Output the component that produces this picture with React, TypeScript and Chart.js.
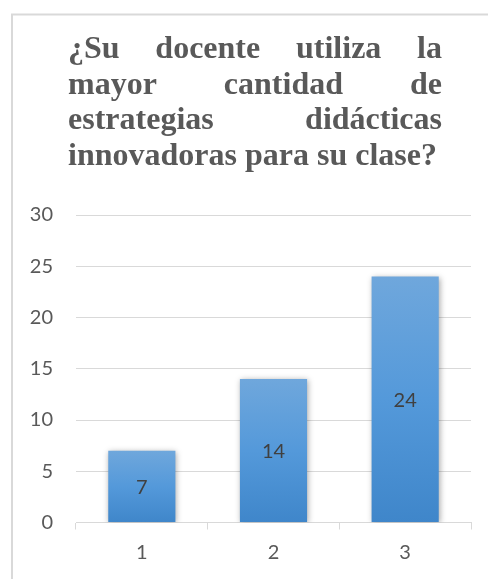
import React, { useEffect, useRef } from "react";
import { Chart, registerables } from "chart.js";

Chart.register(...registerables);

const CATEGORIES = ["1", "2", "3"];
const VALUES = [7, 14, 24];
const Y_MIN = 0;
const Y_MAX = 30;
const Y_STEP = 5;
const TITLE_LINES = [
  "¿Su docente utiliza la",
  "mayor cantidad de",
  "estrategias didácticas",
  "innovadoras para su clase?",
];

const TEXT_COLOR = "#595959";
const GRID_COLOR = "#d9d9d9";
const SANS = "Lato, 'Noto Sans', sans-serif";

const framePlugin = {
  id: "frame",
  beforeDraw(chart: any) {
    const ctx = chart.ctx;
    ctx.save();
    ctx.fillStyle = "#ffffff";
    ctx.fillRect(0, 0, chart.width, chart.height);
    ctx.strokeStyle = GRID_COLOR;
    ctx.lineWidth = 2;
    ctx.strokeRect(12, 14.5, 700, 800);
    ctx.restore();
  },
};

const justifiedTitlePlugin = {
  id: "justifiedTitle",
  afterDraw(chart: any) {
    const ctx = chart.ctx;
    const left = 68;
    const right = 442;
    const firstBaseline = 58;
    const step = 35.5;
    ctx.save();
    ctx.font = "bold 32px 'Liberation Serif', 'Times New Roman', serif";
    ctx.fillStyle = TEXT_COLOR;
    ctx.textBaseline = "alphabetic";
    ctx.textAlign = "left";
    TITLE_LINES.forEach((line, i) => {
      const y = firstBaseline + i * step;
      const words = line.split(" ");
      const last = i === TITLE_LINES.length - 1;
      if (last || words.length < 2) {
        ctx.fillText(line, left, y);
        return;
      }
      const widths = words.map((w) => ctx.measureText(w).width);
      const total = widths.reduce((a, b) => a + b, 0);
      const gap = (right - left - total) / (words.length - 1);
      let x = left;
      words.forEach((w, j) => {
        ctx.fillText(w, x, y);
        x += widths[j] + gap;
      });
    });
    ctx.restore();
  },
};

const shadowPlugin = {
  id: "barShadow",
  beforeDatasetsDraw(chart: any) {
    const ctx = chart.ctx;
    ctx.save();
    ctx.shadowColor = "rgba(0,0,0,0.35)";
    ctx.shadowBlur = 6;
    ctx.shadowOffsetX = 1;
    ctx.shadowOffsetY = 1;
  },
  afterDatasetsDraw(chart: any) {
    chart.ctx.restore();
  },
};

const valueLabelPlugin = {
  id: "valueLabels",
  afterDatasetsDraw(chart: any) {
    const ctx = chart.ctx;
    const meta = chart.getDatasetMeta(0);
    ctx.save();
    ctx.font = `20px ${SANS}`;
    ctx.fillStyle = "#404040";
    ctx.textAlign = "center";
    ctx.textBaseline = "middle";
    meta.data.forEach((bar: any, i: number) => {
      const v = chart.data.datasets[0].data[i];
      const yMid = (bar.y + bar.base) / 2;
      ctx.fillText(String(v), bar.x, yMid + 1);
    });
    ctx.restore();
  },
};

export default function App() {
  const canvasRef = useRef<HTMLCanvasElement | null>(null);

  useEffect(() => {
    const canvas = canvasRef.current;
    if (!canvas) return;
    const chart = new Chart(canvas, {
      type: "bar",
      data: {
        labels: CATEGORIES,
        datasets: [
          {
            data: VALUES,
            backgroundColor: (c: any) => {
              const ch = c.chart;
              const ys = ch.scales && ch.scales.y;
              if (!ch.chartArea || !ys || c.raw === undefined) return "#5b9bd5";
              const top = ys.getPixelForValue(c.raw);
              const bottom = ys.getPixelForValue(0);
              const g = ch.ctx.createLinearGradient(0, top, 0, bottom);
              g.addColorStop(0, "#6fa7dc");
              g.addColorStop(0.5, "#5499da");
              g.addColorStop(1, "#3f86ca");
              return g;
            },
            borderWidth: 0,
            barPercentage: 0.51,
            categoryPercentage: 1,
          },
        ],
      },
      options: {
        responsive: false,
        animation: false,
        devicePixelRatio: 1,
        layout: { padding: { top: 215, left: 0, right: 17, bottom: 0 } },
        plugins: {
          legend: { display: false },
          title: { display: false },
          tooltip: { enabled: false },
        },
        scales: {
          x: {
            grid: {
              display: true,
              drawOnChartArea: false,
              drawTicks: true,
              tickLength: 7,
              color: GRID_COLOR,
              lineWidth: 1,
            },
            border: { display: true, color: GRID_COLOR, width: 1 },
            ticks: {
              color: TEXT_COLOR,
              font: { family: SANS, size: 20 },
              padding: 11,
            },
            afterFit: (s: any) => {
              s.height = 56.5;
            },
          },
          y: {
            min: Y_MIN,
            max: Y_MAX,
            grid: { color: GRID_COLOR, lineWidth: 1, drawTicks: false },
            border: { display: false },
            ticks: {
              stepSize: Y_STEP,
              color: TEXT_COLOR,
              font: { family: SANS, size: 20 },
              padding: 23,
            },
            afterFit: (s: any) => {
              s.width = 76;
            },
          },
        },
      },
      plugins: [framePlugin, shadowPlugin, valueLabelPlugin, justifiedTitlePlugin],
    });
    return () => chart.destroy();
  }, []);

  return (
    <div style={{ position: "absolute", left: 0, top: 0, width: 488, height: 579, background: "#fff" }}>
      <canvas ref={canvasRef} width={488} height={579} style={{ display: "block", width: 488, height: 579 }} />
    </div>
  );
}
